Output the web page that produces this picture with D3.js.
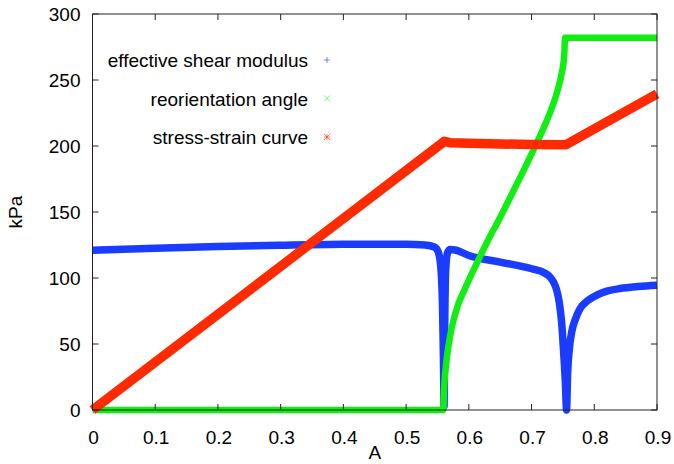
<!DOCTYPE html>
<html>
<head>
<meta charset="utf-8">
<script src="https://cdn.jsdelivr.net/npm/d3@7"></script>
<style>
  body { margin: 0; background: #fff; }
  text { font-family: "Liberation Sans", Arial, Helvetica, sans-serif; fill: #000; }
</style>
</head>
<body>
<script>
// effective shear modulus [A, kPa]
const shearModulus = [
  [0, 121], [0.1, 122.5], [0.2, 123.8], [0.3, 124.8], [0.4, 125.5], [0.5, 125.6],
  [0.53, 125], [0.545, 123.5], [0.551, 120], [0.555, 110], [0.558, 80], [0.5595, 40],
  [0.5605, 3], [0.5615, 60], [0.563, 105], [0.566, 119], [0.57, 121.5], [0.58, 121],
  [0.6, 117], [0.65, 112], [0.7, 107], [0.72, 104], [0.729, 101], [0.735, 97],
  [0.74, 91], [0.744, 82], [0.748, 66], [0.751, 45], [0.754, 20], [0.7558, 0],
  [0.7575, 28], [0.76, 45], [0.764, 59], [0.77, 69], [0.777, 76.5], [0.79, 83],
  [0.804, 87], [0.82, 90], [0.841, 92], [0.87, 93.5], [0.9, 94.5]
];
// reorientation angle
const reorientation = [
  [0, 0], [0.5595, 0], [0.56, 10], [0.561, 20], [0.5625, 29], [0.5645, 38],
  [0.567, 47], [0.5705, 57], [0.575, 67], [0.583, 80], [0.592, 90], [0.6, 98.5],
  [0.6125, 111], [0.63, 128], [0.65, 146], [0.67, 165], [0.693, 187], [0.71, 204],
  [0.725, 220], [0.734, 231], [0.742, 243], [0.748, 255], [0.752, 268],
  [0.7535, 282], [0.9, 282]
];
// stress-strain curve
const stressStrain = [
  [0, 0], [0.561, 203.5], [0.57, 202.5], [0.6, 202], [0.65, 201.5],
  [0.7, 201.2], [0.755, 201], [0.9, 239.5]
];

const xTicks = [0, 0.1, 0.2, 0.3, 0.4, 0.5, 0.6, 0.7, 0.8, 0.9];
const yTicks = [0, 50, 100, 150, 200, 250, 300];
const seriesNames = ['effective shear modulus', 'reorientation angle', 'stress-strain curve'];
const seriesColors = ['#1a3cff', '#11ee11', '#ff2a00'];
const seriesWidths = [7.5, 6.5, 9.5];

const W = 674, H = 464;
const margin = { top: 14, right: 17, bottom: 54, left: 92.5 };
const width = W - margin.left - margin.right;
const height = H - margin.top - margin.bottom;
const fontSize = 19;

const svg = d3.select('body').append('svg')
  .attr('width', W)
  .attr('height', H);

const x = d3.scaleLinear().domain([0, 0.9]).range([margin.left, margin.left + width]);
const y = d3.scaleLinear().domain([0, 300]).range([margin.top + height, margin.top]);

const line = d3.line()
  .x(d => x(d[0]))
  .y(d => y(d[1]));

const allSeries = [shearModulus, reorientation, stressStrain];

// draw in gnuplot order: blue, green, red (later on top)
allSeries.forEach((s, i) => {
  svg.append('path')
    .datum(s)
    .attr('d', line.curve(i === 2 ? d3.curveLinear : d3.curveMonotoneX))
    .attr('fill', 'none')
    .attr('stroke', seriesColors[i])
    .attr('stroke-width', seriesWidths[i])
    .attr('stroke-linejoin', 'round')
    .attr('stroke-linecap', 'butt');
});

// frame + inward ticks on all sides
const tickLen = 6;
const frame = svg.append('g').attr('stroke', '#222').attr('stroke-width', 1).attr('fill', 'none');
frame.append('rect')
  .attr('x', x(0)).attr('y', y(300))
  .attr('width', x(0.9) - x(0)).attr('height', y(0) - y(300));

xTicks.forEach(t => {
  frame.append('line').attr('x1', x(t)).attr('x2', x(t)).attr('y1', y(0)).attr('y2', y(0) - tickLen);
  frame.append('line').attr('x1', x(t)).attr('x2', x(t)).attr('y1', y(300)).attr('y2', y(300) + tickLen);
});
yTicks.forEach(t => {
  frame.append('line').attr('x1', x(0)).attr('x2', x(0) + tickLen).attr('y1', y(t)).attr('y2', y(t));
  frame.append('line').attr('x1', x(0.9)).attr('x2', x(0.9) - tickLen).attr('y1', y(t)).attr('y2', y(t));
});

// tick labels
svg.append('g').selectAll('text')
  .data(xTicks).enter().append('text')
  .attr('x', d => x(d) + 1)
  .attr('y', y(0) + 34)
  .attr('text-anchor', 'middle')
  .attr('font-size', fontSize)
  .text(d => d3.format('~g')(d));

svg.append('g').selectAll('text')
  .data(yTicks).enter().append('text')
  .attr('x', x(0) - 12)
  .attr('y', d => y(d) + 7)
  .attr('text-anchor', 'end')
  .attr('font-size', fontSize)
  .text(d => d);

// axis labels
svg.append('text')
  .attr('x', x(0.45))
  .attr('y', 459)
  .attr('text-anchor', 'middle')
  .attr('font-size', fontSize)
  .text('A');

svg.append('text')
  .attr('transform', 'translate(22,' + y(150) + ') rotate(-90)')
  .attr('text-anchor', 'middle')
  .attr('font-size', fontSize)
  .text('kPa');

// legend
const legend = svg.append('g');
seriesNames.forEach((name, i) => {
  const ly = 60 + i * 38.5;
  legend.append('text')
    .attr('x', 308)
    .attr('y', ly + 7)
    .attr('text-anchor', 'end')
    .attr('font-size', fontSize)
    .text(name);
  const g = legend.append('g')
    .attr('transform', 'translate(327,' + ly + ')')
    .attr('stroke', seriesColors[i])
    .attr('stroke-opacity', 0.6)
    .attr('stroke-width', 1);
  const r = 3;
  if (i === 0 || i === 2) {
    g.append('line').attr('x1', -r).attr('x2', r).attr('y1', 0).attr('y2', 0);
    g.append('line').attr('x1', 0).attr('x2', 0).attr('y1', -r).attr('y2', r);
  }
  if (i === 1 || i === 2) {
    g.append('line').attr('x1', -r).attr('x2', r).attr('y1', -r).attr('y2', r);
    g.append('line').attr('x1', -r).attr('x2', r).attr('y1', r).attr('y2', -r);
  }
});
</script>
</body>
</html>
